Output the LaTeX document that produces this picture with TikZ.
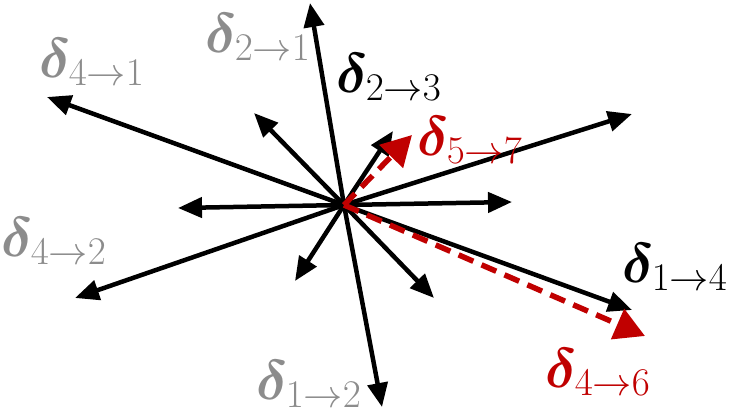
\documentclass[tikz,border=0pt]{standalone}
\usepackage{fix-cm}
\usepackage{amsmath}
\usepackage{bm}
\usetikzlibrary{arrows.meta}
\definecolor{myred}{RGB}{192,0,0}
\definecolor{mygray}{RGB}{140,140,140}

\begin{document}
\begin{tikzpicture}[x=1pt, y=-1pt, >={Triangle[length=24pt,width=20pt]}]
    \useasboundingbox (0,0) rectangle (730,417);
    \tikzset{
        vec/.style={->, line width=4.5pt, black},
        rvec/.style={-{Triangle[length=30pt,width=32pt]}, line width=5.5pt, myred,
            dash pattern=on 16pt off 9pt},
        lbl/.style={inner sep=0pt, font=\fontsize{56}{60}\selectfont}
    }

    % -- common origin of all vectors --
    \coordinate (o) at (344,205);

    % -- black vectors: tips in picture coordinates --
    \foreach \n/\x/\y in {a/310/3, b/47/97, c/254/113, d/178/208, e/75/298,
                          f/295/281, g/382/407, h/434/298, i/632/310,
                          j/512/202, k/632/114, l/393/131}{
        \coordinate (t\n) at (\x,\y);
        \draw[vec] (o) -- (t\n);
    }

    % -- red dashed vectors drawn on top --
    \coordinate (r1) at (412,135);
    \coordinate (r2) at (645,336);
    \draw[rvec] (o) -- (r1);
    \draw[rvec] (o) -- (r2);

    % -- labels --
    \node[lbl, text=mygray] (l41) at (92,62)   {$\bm{\delta}_{4\to1}$};
    \node[lbl, text=mygray] (l21) at (258,37)  {$\bm{\delta}_{2\to1}$};
    \node[lbl]              (l23) at (389,77)  {$\bm{\delta}_{2\to3}$};
    \node[lbl, text=myred]  (l57) at (470,140) {$\bm{\delta}_{5\to7}$};
    \node[lbl, text=mygray] (l42) at (54,241)  {$\bm{\delta}_{4\to2}$};
    \node[lbl, text=mygray] (l12) at (309,384) {$\bm{\delta}_{1\to2}$};
    \node[lbl]              (l14) at (675,267) {$\bm{\delta}_{1\to4}$};
    \node[lbl, text=myred]  (l46) at (598,372) {$\bm{\delta}_{4\to6}$};

\end{tikzpicture}
\end{document}
